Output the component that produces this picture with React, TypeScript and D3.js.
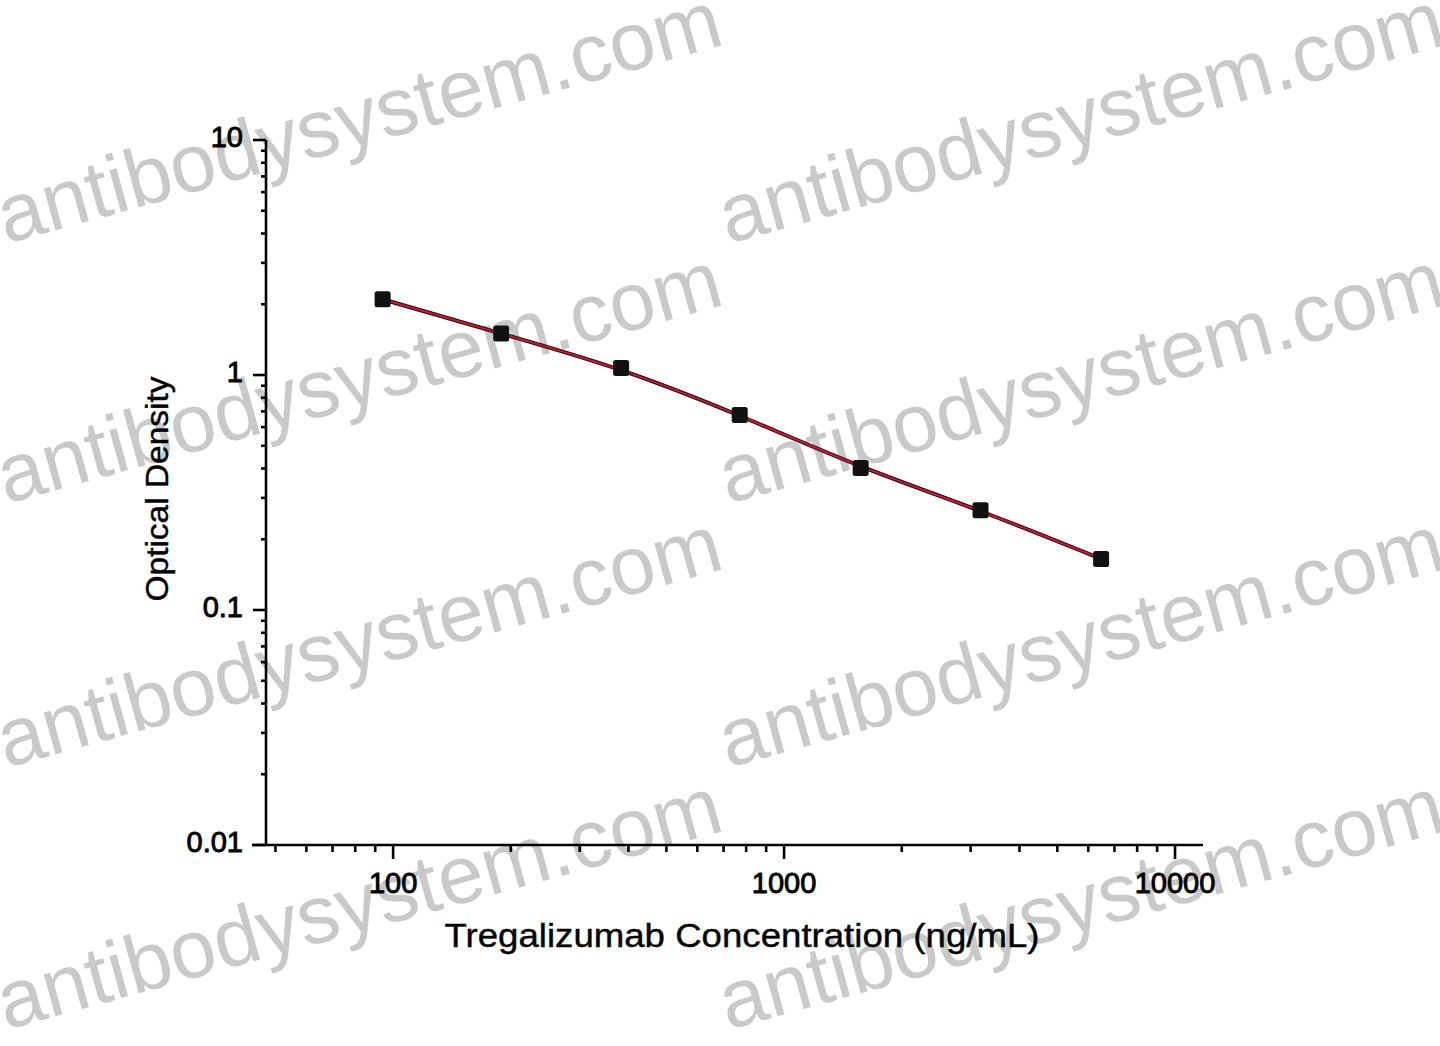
import React from "react";
import * as d3 from "d3";

const concentrations = [94, 189, 383, 770, 1570, 3180, 6470];
const opticalDensity = [2.1, 1.5, 1.07, 0.676, 0.402, 0.266, 0.165];
const xMajorTicks = [100, 1000, 10000];
const xTickLabels = ["100", "1000", "10000"];
const yMajorTicks = [0.01, 0.1, 1, 10];
const yTickLabels = ["0.01", "0.1", "1", "10"];
const xTitle = "Tregalizumab Concentration (ng/mL)";
const yTitle = "Optical Density";
const watermarkText = "antibodysystem.com";
const watermarkCols = [6, 728];
const watermarkRows = [244, 504, 768, 1030];

const W = 1440;
const H = 1046;
const X0 = 266;
const X1 = 1203;
const Y0 = 845;
const Y1 = 140;

export default function App() {
  const x = d3.scaleLog().domain([47.3, 11790]).range([X0, X1]);
  const y = d3.scaleLog().domain([0.01, 10]).range([Y0, Y1]);

  const xMinor: number[] = [];
  for (const dec of [10, 100, 1000]) {
    for (let k = 2; k <= 9; k++) {
      const v = dec * k;
      if (v >= 47.3 && v <= 11790) xMinor.push(v);
    }
  }
  const yMinor: number[] = [];
  for (const dec of [0.01, 0.1, 1]) {
    for (let k = 2; k <= 9; k++) yMinor.push(dec * k);
  }

  const pts = concentrations.map((c, i) => [x(c), y(opticalDensity[i])] as [number, number]);
  const line = d3.line<[number, number]>().curve(d3.curveBasis)(pts) || "";

  const font = "'Liberation Sans', Arial, sans-serif";

  return (
    <svg
      width={W}
      height={H}
      viewBox={`0 0 ${W} ${H}`}
      style={{ position: "absolute", left: 0, top: 0, background: "#fff" }}
    >
      <rect x={0} y={0} width={W} height={H} fill="#fff" />
      <g fill="#c9c9c9" fontFamily={font} fontSize={82}>
        {watermarkRows.map((ry, ri) =>
          watermarkCols.map((cx, ci) => (
            <text key={`${ri}-${ci}`} x={cx} y={ry} transform={`rotate(-15.5 ${cx} ${ry})`}>
              {watermarkText}
            </text>
          ))
        )}
      </g>

      {/* axes */}
      <g stroke="#000" strokeWidth={2.6} fill="none">
        <line x1={X0 - 14} x2={X1} y1={Y0} y2={Y0} />
        <line x1={X0} x2={X0} y1={Y0} y2={Y1} />
        {xMajorTicks.map((t) => (
          <line key={"xm" + t} x1={x(t)} x2={x(t)} y1={Y0} y2={Y0 + 14} />
        ))}
        {xMinor.map((t) => (
          <line key={"xn" + t} x1={x(t)} x2={x(t)} y1={Y0} y2={Y0 + 7} />
        ))}
        {yMajorTicks.map((t) => (
          <line key={"ym" + t} x1={X0 - 13} x2={X0} y1={y(t)} y2={y(t)} />
        ))}
        {yMinor.map((t) => (
          <line key={"yn" + t} x1={X0 - 5} x2={X0} y1={y(t)} y2={y(t)} />
        ))}
      </g>

      <g fontFamily={font} fontSize={29} fill="#000" stroke="#000" strokeWidth={0.9}>
        {xMajorTicks.map((t, i) => (
          <text key={"xl" + t} x={x(t)} y={Y0 + 48} textAnchor="middle">
            {xTickLabels[i]}
          </text>
        ))}
        {yMajorTicks.map((t, i) => (
          <text key={"yl" + t} x={243} y={y(t) + 7} textAnchor="end">
            {yTickLabels[i]}
          </text>
        ))}
      </g>

      <text
        x={742}
        y={947}
        textAnchor="middle"
        fontFamily={font}
        fontSize={33}
        fill="#000"
        stroke="#000"
        strokeWidth={0.4}
        textLength={595}
        lengthAdjust="spacingAndGlyphs"
      >
        {xTitle}
      </text>
      <text
        transform={`translate(168 489) rotate(-90)`}
        textAnchor="middle"
        fontFamily={font}
        fontSize={32}
        fill="#000"
        stroke="#000"
        strokeWidth={0.4}
        textLength={225}
        lengthAdjust="spacingAndGlyphs"
      >
        {yTitle}
      </text>

      <path d={line} fill="none" stroke="#2a070c" strokeWidth={4} />
      <path d={line} fill="none" stroke="#c01d38" strokeWidth={2} />

      {pts.map(([px, py], i) => (
        <rect key={"p" + i} x={px - 8} y={py - 8} width={16} height={16} rx={2.5} fill="#111" />
      ))}
    </svg>
  );
}
